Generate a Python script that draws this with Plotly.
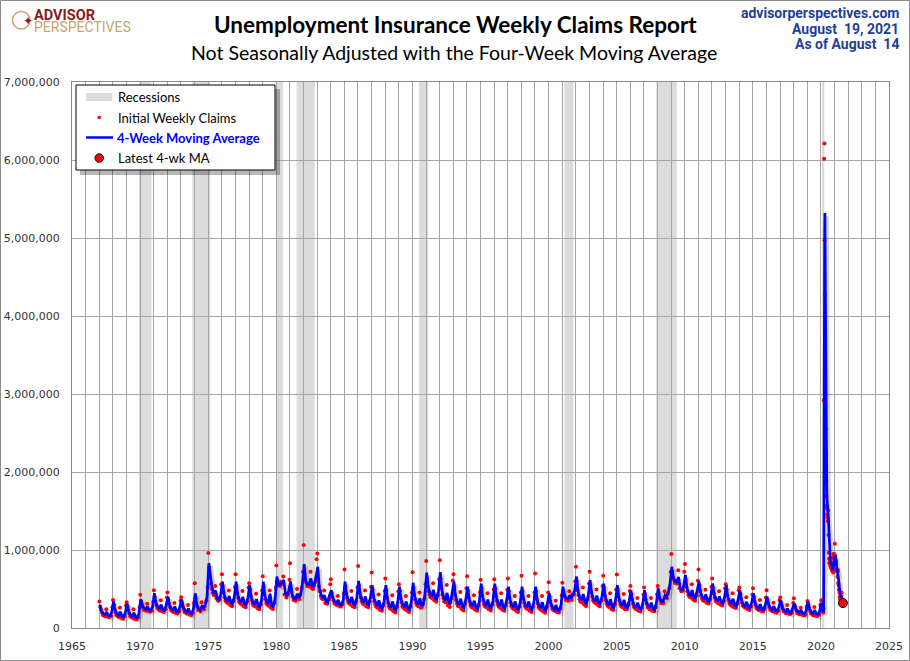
import pandas as pd
import plotly.graph_objects as go

# recession bands (NBER)
rec_start = ['1969-12-01', '1973-11-01', '1980-01-01', '1981-07-01',
             '1990-07-01', '2001-03-01', '2007-12-01', '2020-02-01']
rec_end = ['1970-11-01', '1975-03-01', '1980-07-01', '1982-11-01',
           '1991-03-01', '2001-11-01', '2009-06-01', '2020-04-01']

# 1967-2019: a handful of readings per year (thousands)
years = list(range(1967, 2020))
ma_days = ['01-20', '03-01', '04-15', '06-01', '07-20', '09-01', '10-15', '12-01']
claim_days = ['01-06', '01-27', '03-15', '05-01', '07-10', '08-10', '10-01', '12-20']
extra_days = ['02-17', '04-10', '06-05', '09-12', '11-15']

ma_hist = [
    300, 220, 185, 170, 205, 160, 155, 200,   # 1967
    340, 230, 185, 160, 210, 150, 140, 200,   # 1968
    315, 215, 170, 150, 195, 140, 130, 185,   # 1969
    370, 290, 255, 240, 275, 230, 225, 270,   # 1970
    445, 325, 275, 245, 300, 235, 225, 290,   # 1971
    400, 295, 250, 225, 275, 215, 205, 265,   # 1972
    365, 265, 225, 205, 250, 195, 185, 240,   # 1973
    445, 300, 250, 235, 280, 260, 300, 400,   # 1974
    830, 640, 520, 440, 480, 380, 360, 420,   # 1975
    595, 440, 370, 340, 410, 325, 310, 395,   # 1976
    595, 430, 360, 325, 400, 310, 295, 385,   # 1977
    550, 395, 330, 300, 370, 285, 270, 355,   # 1978
    595, 420, 345, 305, 440, 290, 275, 370,   # 1979
    660, 540, 560, 580, 615, 450, 410, 480,   # 1980
    595, 440, 380, 370, 440, 390, 420, 560,   # 1981
    820, 600, 560, 560, 635, 520, 540, 640,   # 1982
    785, 520, 430, 390, 420, 340, 330, 420,   # 1983
    485, 380, 335, 315, 360, 305, 295, 355,   # 1984
    595, 430, 360, 325, 400, 310, 295, 385,   # 1985
    605, 435, 365, 325, 405, 310, 295, 390,   # 1986
    550, 385, 320, 280, 355, 265, 250, 340,   # 1987
    550, 375, 300, 260, 340, 245, 230, 325,   # 1988
    530, 370, 300, 265, 340, 250, 235, 325,   # 1989
    580, 410, 340, 300, 380, 290, 300, 420,   # 1990
    710, 525, 445, 405, 490, 385, 370, 470,   # 1991
    715, 490, 400, 350, 450, 330, 310, 430,   # 1992
    595, 410, 335, 295, 375, 275, 260, 360,   # 1993
    530, 375, 310, 280, 350, 265, 250, 335,   # 1994
    570, 400, 325, 285, 365, 270, 255, 350,   # 1995
    570, 395, 320, 280, 365, 265, 250, 345,   # 1996
    530, 370, 300, 265, 340, 250, 235, 325,   # 1997
    530, 370, 300, 265, 340, 250, 235, 325,   # 1998
    530, 360, 290, 255, 330, 240, 225, 315,   # 1999
    445, 320, 265, 240, 295, 225, 220, 300,   # 2000
    530, 420, 380, 370, 420, 380, 420, 480,   # 2001
    660, 470, 390, 350, 435, 330, 315, 420,   # 2002
    615, 445, 375, 340, 415, 325, 310, 400,   # 2003
    570, 400, 330, 290, 370, 275, 260, 355,   # 2004
    550, 390, 320, 285, 360, 270, 260, 345,   # 2005
    485, 350, 290, 260, 325, 250, 235, 310,   # 2006
    485, 350, 290, 260, 325, 250, 235, 315,   # 2007
    510, 380, 340, 340, 420, 400, 450, 560,   # 2008
    785, 640, 600, 590, 655, 520, 480, 530,   # 2009
    680, 515, 445, 410, 485, 395, 380, 470,   # 2010
    595, 455, 395, 365, 430, 355, 340, 415,   # 2011
    570, 430, 370, 340, 405, 330, 315, 390,   # 2012
    550, 400, 340, 305, 375, 295, 280, 360,   # 2013
    485, 360, 305, 280, 335, 265, 255, 325,   # 2014
    445, 325, 275, 250, 305, 240, 230, 295,   # 2015
    400, 300, 255, 235, 280, 225, 215, 270,   # 2016
    360, 270, 230, 210, 250, 205, 195, 245,   # 2017
    315, 240, 210, 195, 230, 185, 180, 220,   # 2018
    340, 245, 205, 185, 230, 180, 170, 220,   # 2019
]

claims_hist = [
    340, 270, 200, 165, 240, 150, 140, 265,   # 1967
    360, 300, 200, 155, 260, 130, 120, 290,   # 1968
    330, 280, 185, 145, 240, 120, 110, 270,   # 1969
    425, 340, 270, 235, 310, 220, 210, 335,   # 1970
    485, 400, 290, 245, 355, 215, 205, 390,   # 1971
    455, 360, 265, 220, 320, 195, 185, 350,   # 1972
    395, 330, 240, 200, 295, 175, 165, 320,   # 1973
    575, 380, 270, 230, 330, 250, 280, 520,   # 1974
    960, 780, 560, 450, 540, 380, 350, 560,   # 1975
    690, 535, 395, 335, 480, 295, 280, 525,   # 1976
    690, 535, 385, 320, 475, 280, 265, 520,   # 1977
    575, 495, 355, 290, 440, 255, 240, 480,   # 1978
    665, 530, 370, 300, 480, 260, 245, 515,   # 1979
    800, 600, 560, 590, 660, 430, 390, 620,   # 1980
    830, 500, 400, 360, 500, 380, 430, 720,   # 1981
    1065, 700, 580, 540, 720, 510, 540, 880,  # 1982
    955, 620, 470, 380, 480, 320, 310, 560,   # 1983
    625, 450, 355, 310, 410, 285, 275, 440,   # 1984
    750, 535, 385, 320, 475, 280, 265, 520,   # 1985
    795, 545, 390, 320, 480, 280, 265, 530,   # 1986
    710, 490, 340, 275, 430, 235, 220, 475,   # 1987
    635, 485, 325, 255, 420, 215, 200, 470,   # 1988
    560, 470, 325, 260, 410, 220, 205, 455,   # 1989
    715, 520, 365, 295, 455, 260, 300, 560,   # 1990
    860, 640, 470, 395, 575, 355, 335, 625,   # 1991
    870, 630, 430, 340, 550, 290, 270, 610,   # 1992
    690, 525, 360, 285, 460, 245, 225, 510,   # 1993
    665, 475, 335, 270, 420, 235, 220, 460,   # 1994
    620, 510, 350, 280, 445, 240, 225, 495,   # 1995
    625, 510, 345, 275, 445, 235, 220, 490,   # 1996
    635, 470, 325, 260, 410, 220, 205, 455,   # 1997
    670, 470, 325, 260, 410, 220, 205, 455,   # 1998
    700, 470, 315, 250, 410, 210, 195, 455,   # 1999
    585, 400, 285, 235, 350, 205, 200, 420,   # 2000
    580, 470, 400, 360, 470, 370, 430, 600,   # 2001
    785, 590, 420, 340, 520, 300, 280, 570,   # 2002
    720, 555, 400, 335, 495, 295, 280, 540,   # 2003
    670, 510, 355, 285, 445, 245, 230, 495,   # 2004
    685, 490, 345, 280, 435, 240, 240, 475,   # 2005
    540, 435, 310, 255, 385, 220, 210, 425,   # 2006
    520, 435, 310, 255, 385, 220, 215, 430,   # 2007
    540, 440, 360, 340, 470, 390, 440, 720,   # 2008
    950, 720, 620, 580, 740, 510, 470, 720,   # 2009
    820, 620, 470, 405, 560, 365, 350, 605,   # 2010
    750, 545, 415, 360, 490, 325, 315, 530,   # 2011
    635, 520, 390, 335, 470, 300, 290, 510,   # 2012
    560, 495, 360, 300, 445, 265, 255, 485,   # 2013
    520, 440, 325, 275, 395, 245, 230, 430,   # 2014
    510, 400, 295, 245, 360, 220, 210, 390,   # 2015
    485, 365, 270, 230, 325, 205, 195, 355,   # 2016
    390, 325, 245, 210, 295, 185, 180, 320,   # 2017
    380, 290, 220, 190, 260, 175, 165, 280,   # 2018
    345, 305, 220, 185, 270, 160, 155, 295,   # 2019
]

# the lower weekly readings that fringe the average line
claims_low = [
    235, 165, 150, 140, 150,   # 1967
    245, 165, 140, 130, 150,   # 1968
    230, 150, 130, 120, 135,   # 1969
    305, 235, 220, 210, 220,   # 1970
    340, 255, 225, 215, 240,   # 1971
    310, 230, 205, 195, 215,   # 1972
    280, 205, 185, 175, 190,   # 1973
    315, 230, 215, 240, 350,   # 1974
    660, 500, 420, 360, 370,   # 1975
    455, 350, 320, 305, 345,   # 1976
    445, 340, 305, 290, 335,   # 1977
    410, 310, 280, 265, 305,   # 1978
    435, 325, 285, 270, 320,   # 1979
    555, 540, 560, 430, 430,   # 1980
    455, 360, 350, 370, 510,   # 1981
    615, 540, 540, 500, 590,   # 1982
    535, 410, 370, 320, 370,   # 1983
    395, 315, 295, 285, 305,   # 1984
    445, 340, 305, 290, 335,   # 1985
    450, 345, 305, 290, 340,   # 1986
    400, 300, 260, 245, 290,   # 1987
    390, 280, 240, 225, 275,   # 1988
    385, 280, 245, 230, 275,   # 1989
    425, 320, 280, 270, 370,   # 1990
    540, 425, 385, 365, 420,   # 1991
    505, 380, 330, 310, 380,   # 1992
    425, 315, 275, 255, 310,   # 1993
    390, 290, 260, 245, 285,   # 1994
    415, 305, 265, 250, 300,   # 1995
    410, 300, 260, 245, 295,   # 1996
    385, 280, 245, 230, 275,   # 1997
    385, 280, 245, 230, 275,   # 1998
    375, 270, 235, 220, 265,   # 1999
    335, 245, 220, 205, 250,   # 2000
    435, 360, 350, 360, 430,   # 2001
    485, 370, 330, 310, 370,   # 2002
    460, 355, 320, 305, 350,   # 2003
    415, 310, 270, 255, 305,   # 2004
    405, 300, 265, 280, 295,   # 2005
    365, 270, 240, 230, 260,   # 2006
    365, 270, 240, 230, 265,   # 2007
    395, 320, 320, 380, 510,   # 2008
    655, 580, 570, 500, 480,   # 2009
    530, 425, 390, 375, 420,   # 2010
    470, 375, 345, 335, 365,   # 2011
    445, 350, 320, 310, 340,   # 2012
    415, 320, 285, 275, 310,   # 2013
    375, 285, 260, 245, 275,   # 2014
    340, 255, 230, 220, 245,   # 2015
    315, 235, 215, 205, 220,   # 2016
    285, 210, 190, 185, 195,   # 2017
    255, 190, 175, 165, 170,   # 2018
    260, 185, 165, 160, 170,   # 2019
]

# 2020 - Aug 14, 2021: weekly (thousands)
claims_recent = [
    305, 356, 288, 258,
    241, 232, 210, 204, 207,
    200, 251, 2920, 6015,
    6211, 4971, 4281, 3489,
    2849, 2548, 2225, 1883, 1691,
    1570, 1540, 1456, 1421,
    1372, 1510, 1371, 1191,
    964, 892, 830, 833, 866,
    857, 791, 824, 804,
    767, 894, 773, 751, 738,
    732, 743, 827, 712,
    947, 953, 906, 842,
    922, 1080, 929, 849, 816,
    845, 859, 731, 754,
    738, 740, 656, 723,
    744, 578, 566, 545,
    496, 477, 448, 395, 364,
    391, 417, 396, 380,
    384, 451, 354, 336, 331,
    319, 321,
]
ma_recent = [
    300, 320, 315, 302,
    286, 255, 235, 222, 213,
    205, 215, 895, 2346,
    3849, 5029, 5320, 4738,
    3898, 3292, 2778, 2376, 2087,
    1842, 1671, 1564, 1497,
    1447, 1440, 1419, 1361,
    1259, 1105, 969, 880, 855,
    847, 837, 835, 819,
    797, 822, 810, 796, 789,
    749, 741, 760, 754,
    807, 860, 880, 912,
    900, 915, 925, 920, 905,
    850, 830, 800, 790,
    765, 741, 722, 714,
    716, 675, 653, 608,
    546, 521, 492, 454, 421,
    400, 392, 392, 396,
    393, 403, 392, 381, 369,
    335, 320,
]
recent_weeks = pd.date_range('2020-01-04', '2021-08-14', freq='7D')

ma_dates = [f'{y}-{d}' for y in years for d in ma_days] + list(recent_weeks)
ma_vals = [v * 1000 for v in ma_hist + ma_recent]
claim_dates = ([f'{y}-{d}' for y in years for d in claim_days]
               + [f'{y}-{d}' for y in years for d in extra_days] + list(recent_weeks))
claim_vals = [v * 1000 for v in claims_hist + claims_low + claims_recent]

# page geometry
W, H = 910, 661
ML, MR, MT, MB = 72, 21, 82, 33
PW, PH = W - ML - MR, H - MT - MB


def px(x):
    return (x - ML) / PW


def py(y):
    return (H - MB - y) / PH


def box(x0, y0, x1, y1, **kw):
    d = dict(type='rect', xref='paper', yref='paper', x0=px(x0), x1=px(x1), y0=py(y1), y1=py(y0))
    d.update(kw)
    return d


GRID = '#a6a6a6'
fig = go.Figure()

# soft shadow of the average line (drawn on the offset base axes)
fig.add_trace(go.Scatter(x=ma_dates, y=ma_vals, mode='lines',
                         line=dict(color='rgba(0,0,0,0.16)', width=4), hoverinfo='skip'))
fig.add_trace(go.Scatter(x=claim_dates, y=claim_vals, mode='markers', name='Initial Weekly Claims',
                         marker=dict(color='#ff0000', size=4), xaxis='x2', yaxis='y2'))
fig.add_trace(go.Scatter(x=ma_dates, y=ma_vals, mode='lines', name='4-Week Moving Average',
                         line=dict(color='#0000ff', width=2.7), xaxis='x2', yaxis='y2'))
fig.add_trace(go.Scatter(x=[ma_dates[-1]], y=[ma_vals[-1]], mode='markers', name='Latest 4-wk MA',
                         marker=dict(color='#ff0000', size=9, line=dict(color='black', width=1)),
                         xaxis='x2', yaxis='y2'))

shapes = []
for s, e in zip(rec_start, rec_end):
    shapes.append(dict(type='rect', xref='x2', yref='paper', x0=s, x1=e, y0=0, y1=1,
                       fillcolor='#dcdcdc', line=dict(width=0), layer='below'))

# legend box drawn by hand
shapes.append(box(80, 89, 280, 175, fillcolor='rgba(0,0,0,0.28)', line=dict(width=0)))
shapes.append(box(76, 85, 275, 170, fillcolor='white', line=dict(color='black', width=1)))
shapes.append(box(86, 93, 112, 101, fillcolor='#dcdcdc', line=dict(width=0)))
shapes.append(dict(type='circle', xref='paper', yref='paper', x0=px(97.5), x1=px(101),
                   y0=py(119.3), y1=py(115.8), fillcolor='#ff0000', line=dict(width=0)))
shapes.append(dict(type='line', xref='paper', yref='paper', x0=px(86), x1=px(113),
                   y0=py(137.5), y1=py(137.5), line=dict(color='#0000ff', width=2.5)))
shapes.append(dict(type='circle', xref='paper', yref='paper', x0=px(95), x1=px(103.5),
                   y0=py(162.3), y1=py(153.8), fillcolor='#ff0000', line=dict(color='black', width=1)))

# outer frame
shapes.append(box(0.5, 0.5, W - 0.5, H - 0.5, line=dict(color='#8c8c8c', width=1)))
# logo ring
shapes.append(dict(type='circle', xref='paper', yref='paper', x0=px(12.5), x1=px(30),
                   y0=py(29), y1=py(11.5), line=dict(color='#c8a46a', width=1.5)))

side = dict(family='Liberation Sans Narrow, Arial Narrow, Roboto', size=14, color='#1f3f99')
leg = dict(family='Lato', size=13, color='black')
annotations = [
    dict(text='<b>Unemployment Insurance Weekly Claims Report</b>', x=px(455), y=py(25),
         font=dict(family='Lato', size=22.5, color='black')),
    dict(text='Not Seasonally Adjusted with the Four-Week Moving Average', x=px(454), y=py(53),
         font=dict(family='Lato', size=19.5, color='black')),
    dict(text='<b>advisorperspectives.com</b>', x=px(901), y=py(13), xanchor='right', font=side),
    dict(text='<b>August  19, 2021</b>', x=px(901), y=py(29), xanchor='right', font=side),
    dict(text='<b>As of August  14</b>', x=px(901), y=py(44), xanchor='right', font=side),
    dict(text='<b>ADVISOR</b>', x=px(32), y=py(16), xanchor='left',
         font=dict(family='Roboto', size=14.5, color='#8b1c1c')),
    dict(text='PERSPECTIVES', x=px(32), y=py(27.5), xanchor='left',
         font=dict(family='Roboto', size=14, color='#c8a46a')),
    dict(text='✦', x=px(21.2), y=py(20.5), font=dict(size=12, color='#8b1c1c')),
    dict(text='Recessions', x=px(115.5), y=py(97), xanchor='left', font=leg),
    dict(text='Initial Weekly Claims', x=px(115.5), y=py(117.5), xanchor='left', font=leg),
    dict(text='<b>4-Week Moving Average</b>', x=px(115), y=py(137.5), xanchor='left',
         font=dict(family='Lato', size=13, color='#0000ff')),
    dict(text='Latest 4-wk MA', x=px(115.5), y=py(158), xanchor='left', font=leg),
]
for a in annotations:
    a.update(xref='paper', yref='paper', showarrow=False, yanchor='middle')

tickfont = dict(family='DejaVu Sans', size=11, color='#333333')
fig.update_layout(
    width=W, height=H,
    margin=dict(l=ML, r=MR, t=MT, b=MB, autoexpand=False),
    paper_bgcolor='white', plot_bgcolor='white',
    shapes=shapes, annotations=annotations,
    showlegend=False,
    xaxis=dict(type='date', range=['1964-11-10', '2024-11-10'], visible=False, automargin=False),
    yaxis=dict(range=[35000, 7035000], visible=False, automargin=False),
    xaxis2=dict(type='date', overlaying='x', anchor='y2', side='bottom', automargin=False,
                range=['1965-01-01', '2025-01-01'], tick0='1965-01-01', dtick='M60',
                tickformat='%Y', showgrid=True, gridcolor=GRID, gridwidth=1,
                minor=dict(dtick='M12', showgrid=True, gridcolor=GRID, gridwidth=1),
                showline=True, linecolor='#8c8c8c', mirror=True,
                ticks='outside', ticklen=8, tickcolor='rgba(0,0,0,0)',
                tickfont=tickfont, zeroline=False),
    yaxis2=dict(overlaying='y', anchor='x2', side='left', range=[0, 7000000], dtick=1000000,
                tickformat=',d', showgrid=True, gridcolor=GRID, gridwidth=1, automargin=False,
                showline=True, linecolor='#8c8c8c', mirror=True,
                ticks='outside', ticklen=9, tickcolor='rgba(0,0,0,0)',
                tickfont=tickfont, zeroline=False),
)

fig.write_html('out.html', config={'displayModeBar': False},
               post_script="document.body.style.margin='0px';")
